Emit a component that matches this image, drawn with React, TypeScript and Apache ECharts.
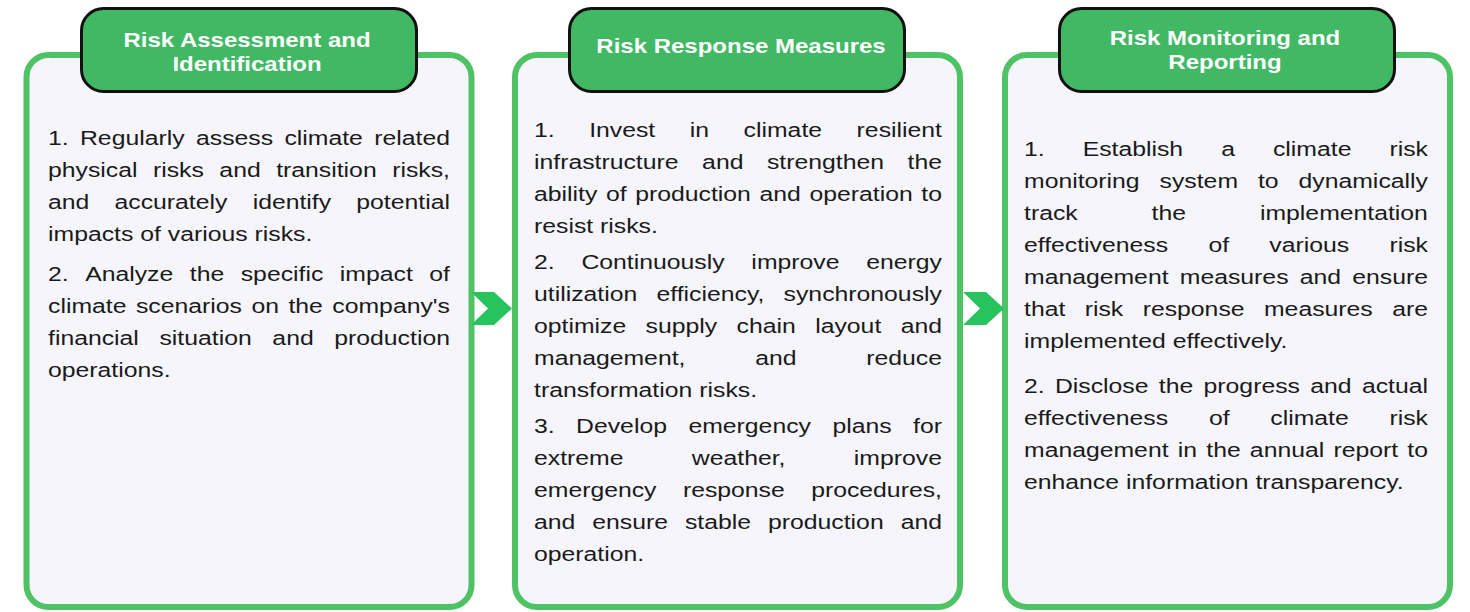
import React, { useEffect, useRef } from "react";
import * as echarts from "echarts";

// ---- content ----
const stageTitles: string[][] = [
  ["Risk Assessment and", "Identification"],
  ["Risk Response Measures"],
  ["Risk Monitoring and", "Reporting"],
];

const stage1Paragraphs: string[][] = [
  [
    "1. Regularly assess climate related",
    "physical risks and transition risks,",
    "and accurately identify potential",
    "impacts of various risks.",
  ],
  [
    "2. Analyze the specific impact of",
    "climate scenarios on the company's",
    "financial situation and production",
    "operations.",
  ],
];

const stage2Paragraphs: string[][] = [
  [
    "1. Invest in climate resilient",
    "infrastructure and strengthen the",
    "ability of production and operation to",
    "resist risks.",
  ],
  [
    "2. Continuously improve energy",
    "utilization efficiency, synchronously",
    "optimize supply chain layout and",
    "management, and reduce",
    "transformation risks.",
  ],
  [
    "3. Develop emergency plans for",
    "extreme weather, improve",
    "emergency response procedures,",
    "and ensure stable production and",
    "operation.",
  ],
];

const stage3Paragraphs: string[][] = [
  [
    "1. Establish a climate risk",
    "monitoring system to dynamically",
    "track the implementation",
    "effectiveness of various risk",
    "management measures and ensure",
    "that risk response measures are",
    "implemented effectively.",
  ],
  [
    "2. Disclose the progress and actual",
    "effectiveness of climate risk",
    "management in the annual report to",
    "enhance information transparency.",
  ],
];

const stageParagraphs = [stage1Paragraphs, stage2Paragraphs, stage3Paragraphs];

// ---- layout ----
const panelX = [26.5, 515, 1005];
const panelW = 445;
const panelTop = 55;
const panelBottom = 607;
const headerX = [81.5, 569.5, 1059.5];
const headerW = 335;
const headerTop = 8.5;
const headerH = 83;
const titleCenterX = [247, 741, 1225];
const titleLineY = [[40, 64], [46], [38, 62]];
const textLeft = [48, 534, 1024];
const textRight = [450, 942, 1428];
const textStartY = [138, 130, 149];
const paraExtra = [8, 4, 13];
const lineH = 32;
const chevronX = [471, 963];

const FONT = '"Liberation Sans", Arial, Helvetica, sans-serif';
const BODY_SIZE = 21;
const TITLE_SIZE = 20;
const SX = 1.18;
const TITLE_SX = 1.2;

export default function App() {
  const ref = useRef<HTMLDivElement>(null);
  useEffect(() => {
    document.body.style.margin = "0";
    const chart = echarts.init(ref.current!, null, { renderer: "svg" });
    const canvas = document.createElement("canvas");
    const ctx = canvas.getContext("2d")!;
    ctx.font = `${BODY_SIZE}px ${FONT}`;
    const mw = (s: string) => ctx.measureText(s).width * SX;
    const spaceW = mw(" ");

    const elements: any[] = [];

    // panels
    for (let i = 0; i < 3; i++) {
      elements.push({
        type: "rect",
        shape: { x: panelX[i], y: panelTop, width: panelW, height: panelBottom - panelTop, r: 22 },
        style: { fill: "#F5F5FB", stroke: "#4EC265", lineWidth: 6 },
        z: 1,
      });
    }

    // chevrons
    for (const cx of chevronX) {
      elements.push({
        type: "polygon",
        shape: {
          points: [
            [cx, 292],
            [cx + 23, 292],
            [cx + 41, 308.5],
            [cx + 23, 325],
            [cx, 325],
            [cx + 17, 308.5],
          ],
        },
        style: { fill: "#27C45E" },
        z: 3,
      });
    }

    // headers
    for (let i = 0; i < 3; i++) {
      elements.push({
        type: "rect",
        shape: { x: headerX[i], y: headerTop, width: headerW, height: headerH, r: 22 },
        style: { fill: "#41B864", stroke: "#111111", lineWidth: 3 },
        z: 4,
      });
      stageTitles[i].forEach((t, k) => {
        elements.push({
          type: "text",
          x: titleCenterX[i],
          y: titleLineY[i][k],
          scaleX: TITLE_SX,
          style: {
            text: t,
            fill: "#FFFFFF",
            fontSize: TITLE_SIZE,
            fontWeight: "bold",
            fontFamily: FONT,
            textAlign: "center",
            textVerticalAlign: "middle",
          },
          z: 5,
        });
      });
    }

    // body text (justified)
    for (let i = 0; i < 3; i++) {
      const W = textRight[i] - textLeft[i];
      let y = textStartY[i];
      stageParagraphs[i].forEach((para, pi) => {
        if (pi > 0) y += paraExtra[i];
        para.forEach((line, li) => {
          const words = line.split(" ");
          const widths = words.map(mw);
          const sum = widths.reduce((a, b) => a + b, 0);
          const isLast = li === para.length - 1;
          let gap = spaceW;
          if (!isLast && words.length > 1) {
            gap = Math.max(spaceW * 0.6, (W - sum) / (words.length - 1));
          }
          let x = textLeft[i];
          words.forEach((w, wi) => {
            elements.push({
              type: "text",
              x,
              y,
              scaleX: SX,
              style: {
                text: w,
                fill: "#1A1A1A",
                fontSize: BODY_SIZE,
                fontFamily: FONT,
                textAlign: "left",
                textVerticalAlign: "middle",
              },
              z: 2,
            });
            x += widths[wi] + gap;
          });
          y += lineH;
        });
      });
    }

    chart.setOption({ animation: false, graphic: { elements } });
    return () => chart.dispose();
  }, []);
  return <div ref={ref} style={{ width: 1470, height: 612 }} />;
}
